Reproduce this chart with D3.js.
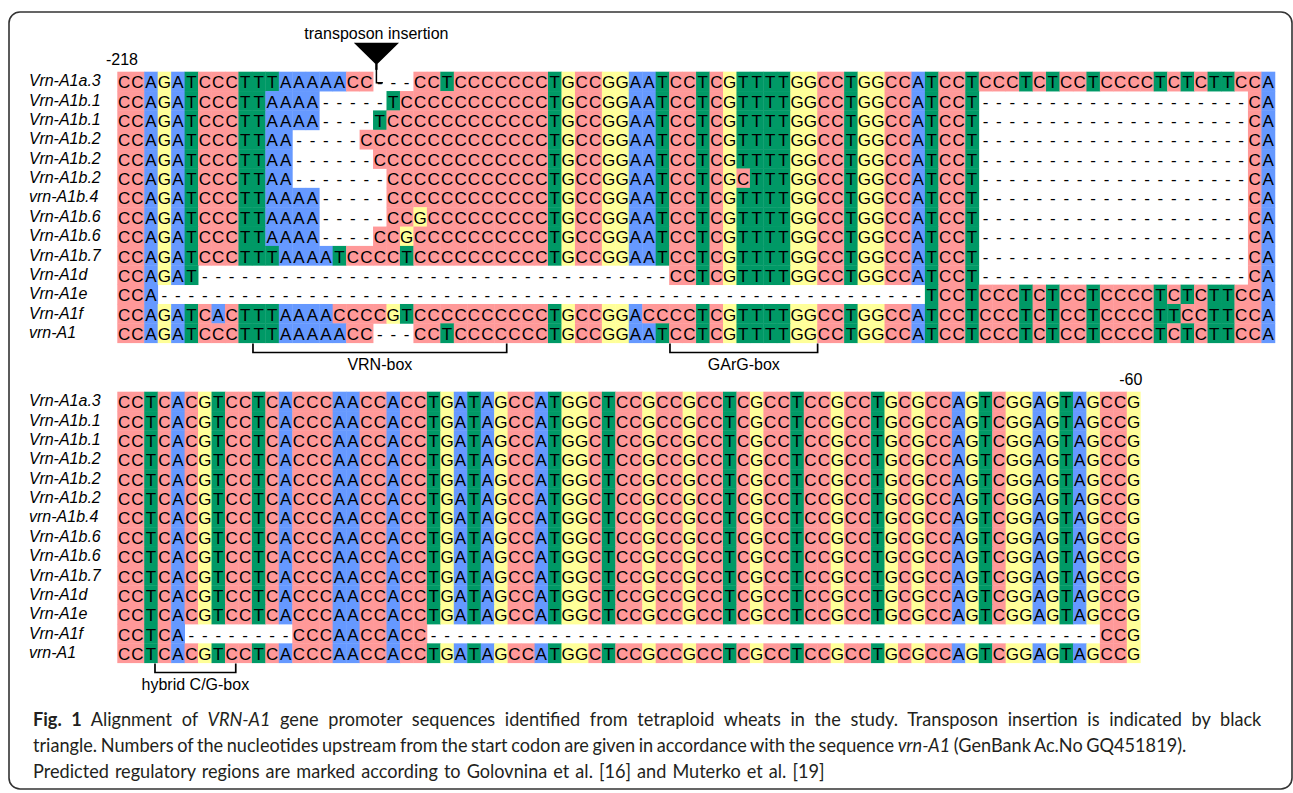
<!DOCTYPE html>
<html><head><meta charset="utf-8">
<script src="https://cdn.jsdelivr.net/npm/d3@7"></script>
<style>body{margin:0;background:#fff}</style>
</head><body><svg id="c" width="1293" height="793"></svg>
<script>
// ---------------- data ----------------
const rowLabels = ["Vrn-A1a.3","Vrn-A1b.1","Vrn-A1b.1","Vrn-A1b.2","Vrn-A1b.2","Vrn-A1b.2","vrn-A1b.4","Vrn-A1b.6","Vrn-A1b.6","Vrn-A1b.7","Vrn-A1d","Vrn-A1e","Vrn-A1f","vrn-A1"];

const topSeqs = [
  "CCAGATCCCTTTAAAAACC---CCTCCCCCCCTGCCGGAATCCTCGTTTTGGCCTGGCCATCCTCCCTCTCCTCCCCTCTCTTCCA",
  "CCAGATCCCTTAAAA-----TCCCCCCCCCCCTGCCGGAATCCTCGTTTTGGCCTGGCCATCCT--------------------CA",
  "CCAGATCCCTTAAAA----TCCCCCCCCCCCCTGCCGGAATCCTCGTTTTGGCCTGGCCATCCT--------------------CA",
  "CCAGATCCCTTAA-----CCCCCCCCCCCCCCTGCCGGAATCCTCGTTTTGGCCTGGCCATCCT--------------------CA",
  "CCAGATCCCTTAA------CCCCCCCCCCCCCTGCCGGAATCCTCGTTTTGGCCTGGCCATCCT--------------------CA",
  "CCAGATCCCTTAA-------CCCCCCCCCCCCTGCCGGAATCCTCGCTTTGGCCTGGCCATCCT--------------------CA",
  "CCAGATCCCTTAAAA-----CCCCCCCCCCCCTGCCGGAATCCTCGTTTTGGCCTGGCCATCCT--------------------CA",
  "CCAGATCCCTTAAAA-----CCGCCCCCCCCCTGCCGGAATCCTCGTTTTGGCCTGGCCATCCT--------------------CA",
  "CCAGATCCCTTAAAA----CCGCCCCCCCCCCTGCCGGAATCCTCGTTTTGGCCTGGCCATCCT--------------------CA",
  "CCAGATCCCTTTAAAATCCCCTCCCCCCCCCCTGCCGGAATCCTCGTTTTGGCCTGGCCATCCT--------------------CA",
  "CCAGAT-----------------------------------CCTCGTTTTGGCCTGGCCATCCT--------------------CA",
  "CCA---------------------------------------------------------TCCTCCCTCTCCTCCCCTCTCTTCCA",
  "CCAGATCACTTTAAAACCCCGTCCCCCCCCCCTGCCGGACCCCTCGTTTTGGCCTGGCCATCCTCCCTCTCCTCCCCTTCCTTCCA",
  "CCAGATCCCTTTAAAAACC---CCTCCCCCCCTGCCGGAATCCTCGTTTTGGCCTGGCCATCCTCCCTCTCCTCCCCTCTCTTCCA"
];

const bottomFull = "CCTCACGTCCTCACCCAACCACCTGATAGCCATGGCTCCGCCGCCTCGCCTCCGCCTGCGCCAGTCGGAGTAGCCG";
const bottomA1f  = "CCTCA--------CCCAACCACC--------------------------------------------------CCG";
const bottomSeqs = [bottomFull,bottomFull,bottomFull,bottomFull,bottomFull,bottomFull,bottomFull,
                    bottomFull,bottomFull,bottomFull,bottomFull,bottomFull,bottomA1f,bottomFull];

const positionLabels = [{block:0,col:0.35,text:"-218"},{block:1,col:75.3,text:"-60"}];
const boxes = [
  {block:0,label:"VRN-box",from:10.08,to:28.93},
  {block:0,label:"GArG-box",from:41.06,to:52.03},
  {block:1,label:"hybrid C/G-box",from:2.8,to:8.8}
];
const insertion = {block:0,col:19.25,label:"transposon insertion"};
const baseColors = {C:"#ff9999",A:"#6699ff",G:"#ffff99",T:"#009966"};

const captionLines = [
  [{t:"Fig. 1",w:"bold"},{t:" Alignment of "},{t:"VRN-A1",s:"italic"},{t:" gene promoter sequences identified from tetraploid wheats in the study. Transposon insertion is indicated by black"}],
  [{t:"triangle. Numbers of the nucleotides upstream from the start codon are given in accordance with the sequence "},{t:"vrn-A1",s:"italic"},{t:" (GenBank Ac.No GQ451819)."}],
  [{t:"Predicted regulatory regions are marked according to Golovnina et al. [16] and Muterko et al. [19]"}]
];
const captionWidths = [1229, 1154, 792];

// ---------------- drawing ----------------
const svg = d3.select("#c");
const cellW = 13.46, x0 = 117.3;
const x = d3.scaleLinear().domain([0, 86]).range([x0, x0 + 86 * cellW]);
const blocks = [
  {seqs: topSeqs, y: d3.scaleBand().domain(d3.range(14)).range([71.7, 342.7])},
  {seqs: bottomSeqs, y: d3.scaleBand().domain(d3.range(14)).range([391.7, 662.7])}
];

svg.append("rect").attr("x",9).attr("y",12).attr("width",1283).attr("height",777)
  .attr("rx",11).attr("fill","#fff").attr("stroke","#333").attr("stroke-width",1.6);

const seqFont = "'Liberation Sans', Arial, Helvetica, sans-serif";

blocks.forEach((b, bi) => {
  const g = svg.append("g");
  const bw = b.y.bandwidth();
  b.seqs.forEach((s, ri) => {
    const cells = s.split("").map((c, i) => ({c, i}));
    const rg = g.append("g").attr("transform", `translate(0,${b.y(ri)})`);
    rg.selectAll("rect").data(cells.filter(d => d.c !== "-")).join("rect")
      .attr("x", d => x(d.i)).attr("y", 0)
      .attr("width", d => x(d.i + 1) - x(d.i) + 0.4).attr("height", bw + 0.4)
      .attr("fill", d => baseColors[d.c]);
    rg.selectAll("text").data(cells).join("text")
      .attr("x", d => x(d.i + 0.5)).attr("y", 16.6)
      .attr("text-anchor","middle")
      .attr("font-family", seqFont).attr("font-size", 17).attr("fill","#000")
      .text(d => d.c);
  });
  g.selectAll("text.lab").data(rowLabels).join("text").attr("class","lab")
    .attr("x", 29).attr("y", (d, i) => b.y(i) + 14.6)
    .attr("font-family", seqFont).attr("font-style","italic").attr("font-size",16)
    .attr("fill","#000").text(d => d);
});

positionLabels.forEach(p => {
  svg.append("text").attr("x", x(p.col)).attr("y", blocks[p.block].y.range()[0] - 6.5)
    .attr("text-anchor","middle").attr("font-family", seqFont).attr("font-size",16)
    .attr("fill","#000").text(p.text);
});

boxes.forEach(bx => {
  const yb = blocks[bx.block].y.range()[1];
  const xa = x(bx.from), xb = x(bx.to);
  svg.append("path")
    .attr("d", `M${xa},${yb + 0.8}V${yb + 9.8}H${xb}V${yb + 0.8}`)
    .attr("fill","none").attr("stroke","#000").attr("stroke-width",1.7);
  svg.append("text").attr("x", (xa + xb) / 2).attr("y", yb + 27)
    .attr("text-anchor","middle").attr("font-family", seqFont).attr("font-size",16)
    .attr("fill","#000").text(bx.label);
});

{
  const yTop0 = blocks[insertion.block].y.range()[0];
  const cx = x(insertion.col);
  svg.append("path")
    .attr("d", `M${cx - 22.6},${yTop0 - 29}H${cx + 22.6}L${cx + 1.2},${yTop0 - 8}V${yTop0 - 2}H${cx - 1.2}V${yTop0 - 8}Z`)
    .attr("fill","#000");
  svg.append("path")
    .attr("d", `M${cx},${yTop0 - 3}V${yTop0 + 11}H${cx + 6.5}`)
    .attr("fill","none").attr("stroke","#000").attr("stroke-width",1.5);
  svg.append("text").attr("x", cx).attr("y", yTop0 - 33.2)
    .attr("text-anchor","middle").attr("font-family", seqFont).attr("font-size",16)
    .attr("fill","#000").text(insertion.label);
}

// caption: one common glyph scale; word spacing brings each line to its width
const capGroups = [], capTexts = [];
captionLines.forEach((line, li) => {
  const g = svg.append("g");
  const t = g.append("text").attr("x", 0).attr("y", 0)
    .attr("font-family","Lato, 'Open Sans', sans-serif").attr("font-size",18.6)
    .attr("fill","#231f20");
  line.forEach(seg => {
    t.append("tspan").attr("font-weight", seg.w || null).attr("font-style", seg.s || null).text(seg.t);
  });
  capGroups.push(g); capTexts.push(t);
});
const nat = capTexts.map(t => t.node().getComputedTextLength());
const sc = (captionWidths[1] + captionWidths[2]) / (nat[1] + nat[2]);
capGroups.forEach((g, li) => {
  g.attr("transform", `translate(33,${726.3 + li * 26}) scale(${sc},1)`);
  const str = captionLines[li].map(s => s.t).join("");
  const nSp = (str.match(/ /g) || []).length;
  capTexts[li].attr("word-spacing", (captionWidths[li] / sc - nat[li]) / nSp);
});
</script>
</body></html>
